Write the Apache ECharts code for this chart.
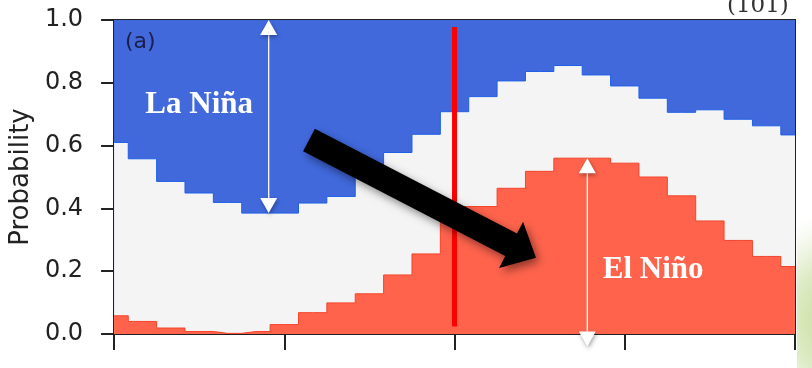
<!DOCTYPE html>
<html>
<head>
<meta charset="utf-8">
<script src="https://cdn.jsdelivr.net/npm/echarts@6/dist/echarts.min.js"></script>
<style>
html,body{margin:0;padding:0;background:#fff;}
#c{width:812px;height:368px;}
</style>
</head>
<body>
<div id="c"></div>
<script>
// ---- data (probabilities per step, 25 steps) ----
const steps = [0,1,2,3,4,5,6,7,8,9,10,11,12,13,14,15,16,17,18,19,20,21,22,23,24];
const elNino  = [0.058,0.040,0.019,0.008,0.002,0.008,0.030,0.068,0.099,0.128,0.188,0.255,0.406,0.406,0.464,0.518,0.560,0.560,0.544,0.500,0.440,0.360,0.298,0.247,0.215];
const neutral = [0.552,0.518,0.467,0.441,0.417,0.377,0.355,0.349,0.339,0.382,0.390,0.381,0.302,0.350,0.342,0.318,0.295,0.265,0.246,0.251,0.266,0.354,0.386,0.416,0.419];
const laNina  = [0.390,0.442,0.514,0.551,0.581,0.615,0.615,0.583,0.562,0.490,0.422,0.364,0.292,0.244,0.194,0.164,0.145,0.175,0.210,0.249,0.294,0.286,0.316,0.337,0.366];
const yTicks = ['0.0','0.2','0.4','0.6','0.8','1.0'];
const yLabel = 'Probability';
const panelLabel = '(a)';
const cornerLabel = '(101)';
const laNinaLabel = 'La Niña';
const elNinoLabel = 'El Niño';
const markX = 12;               // vertical red line position
const markYRange = [0.024, 0.978];

// cumulative tops of the stacked bands
const cumRed  = elNino.map((v,i)=>[steps[i], v]);
const cumGray = elNino.map((v,i)=>[steps[i], v + neutral[i]]);
const cumBlue = elNino.map((v,i)=>[steps[i], v + neutral[i] + laNina[i]]);

const chart = echarts.init(document.getElementById('c'), null, {renderer:'canvas'});

const option = {
  animation:false,
  backgroundColor:'#ffffff',
  grid:{left:113, right:17, top:20, bottom:34, show:true, borderColor:'#222', borderWidth:2, backgroundColor:'transparent'},
  xAxis:{
    type:'value', min:0, max:24, interval:6,
    axisLine:{show:true, lineStyle:{color:'#222', width:2}},
    axisTick:{show:true, length:16, lineStyle:{color:'#222', width:2}},
    axisLabel:{show:false},
    splitLine:{show:false}
  },
  yAxis:{
    type:'value', min:0, max:1, interval:0.2,
    name:yLabel, nameLocation:'middle', nameGap:79, nameRotate:90,
    nameTextStyle:{fontFamily:'DejaVu Sans', fontSize:26, color:'#222'},
    axisLine:{show:true, lineStyle:{color:'#222', width:2}},
    axisTick:{show:true, length:13, lineStyle:{color:'#222', width:2}},
    axisLabel:{margin:31, fontFamily:'DejaVu Sans', fontSize:24, color:'#222',
      formatter:(v)=>yTicks[Math.round(v*5)]},
    splitLine:{show:false}
  },
  series:[
    {name:'La Niña', type:'line', step:'middle', symbol:'none', data:cumBlue,
      lineStyle:{width:0}, areaStyle:{color:'#4169dc', opacity:1}, z:1},
    {name:'Neutral', type:'line', step:'middle', symbol:'none', data:cumGray,
      lineStyle:{color:'#1f5fe6', width:1}, areaStyle:{color:'#f4f4f4', opacity:1}, z:2},
    {name:'El Niño', type:'line', step:'middle', symbol:'none', data:cumRed,
      lineStyle:{color:'#f5442a', width:1}, areaStyle:{color:'#ff634c', opacity:1}, z:3},
    {name:'mark', type:'line', symbol:'none', data:[[markX, markYRange[0]],[markX, markYRange[1]]],
      lineStyle:{color:'#ff0000', width:5}, z:5}
  ]
};
chart.setOption(option);

const P = (x,y)=>chart.convertToPixel({gridIndex:0},[x,y]);

function whiteArrow(x, y1, y2){
  const a = P(x,y1), b = P(x,y2);
  const hl = 15, hw = 8.5;
  const dir = Math.sign(b[1]-a[1]);
  return [
    {type:'line', shape:{x1:a[0], y1:a[1]+dir*hl*0.5, x2:b[0], y2:b[1]-dir*hl*0.5}, style:{stroke:'#ffffff', lineWidth:1.3}, z:100},
    {type:'polygon', shape:{points:[[a[0],a[1]],[a[0]-hw,a[1]+dir*hl],[a[0]+hw,a[1]+dir*hl]]},
      style:{fill:'#ffffff', shadowBlur:4, shadowColor:'rgba(0,0,0,0.35)', shadowOffsetX:1, shadowOffsetY:2}, z:100},
    {type:'polygon', shape:{points:[[b[0],b[1]],[b[0]-hw,b[1]-dir*hl],[b[0]+hw,b[1]-dir*hl]]},
      style:{fill:'#ffffff', shadowBlur:4, shadowColor:'rgba(0,0,0,0.35)', shadowOffsetX:1, shadowOffsetY:2}, z:100}
  ];
}

function blackArrow(x0,y0,x1,y1){
  const s = P(x0,y0), t = P(x1,y1);
  const dx = t[0]-s[0], dy = t[1]-s[1], L = Math.hypot(dx,dy);
  const ux = dx/L, uy = dy/L, px = -uy, py = ux;
  const sw = 12.75, hw = 26, hl = 28;
  const bx = t[0]-ux*hl, by = t[1]-uy*hl;
  const pts = [
    [s[0]+px*sw, s[1]+py*sw],
    [bx+px*sw, by+py*sw],
    [bx+px*hw, by+py*hw],
    [t[0], t[1]],
    [bx-px*hw, by-py*hw],
    [bx-px*sw, by-py*sw],
    [s[0]-px*sw, s[1]-py*sw]
  ];
  return {type:'polygon', shape:{points:pts},
    style:{fill:'#000000', shadowBlur:8, shadowColor:'rgba(0,0,0,0.45)', shadowOffsetX:3, shadowOffsetY:4}, z:110};
}

const ln = P(3.0, 0.73), en = P(19.0, 0.205);
const graphics = [
  {type:'text', left:125, top:31, style:{text:panelLabel, fontFamily:'DejaVu Sans', fontSize:22, fill:'#1b1f4a'}, z:100},
  {type:'text', x:727, y:18, style:{text:cornerLabel, fontFamily:'DejaVu Serif', fontSize:23, fill:'#333', verticalAlign:'bottom', align:'left'}, z:100},
  {type:'rect', shape:{x:797, y:205, width:15, height:163},
    style:{fill:new echarts.graphic.RadialGradient(850, 320, 110, [
      {offset:0, color:'rgba(180,210,120,0.95)'},{offset:0.55, color:'rgba(200,222,160,0.6)'},{offset:1, color:'rgba(215,232,190,0)'}], true)}, z:1},
  ...whiteArrow(5.45, 1.0, 1 - laNina[5]),
  ...whiteArrow(16.68, elNino[16], -0.04),
  blackArrow(6.87, 0.618, 14.87, 0.243),
  {type:'text', x:ln[0], y:ln[1], style:{text:laNinaLabel, fontFamily:'Liberation Serif', fontWeight:'bold', fontSize:31, fill:'#ffffff', align:'center', verticalAlign:'middle'}, z:120},
  {type:'text', x:en[0], y:en[1], style:{text:elNinoLabel, fontFamily:'Liberation Serif', fontWeight:'bold', fontSize:31, fill:'#ffffff', align:'center', verticalAlign:'middle'}, z:120}
];
chart.setOption({graphic:graphics});
</script>
</body>
</html>
